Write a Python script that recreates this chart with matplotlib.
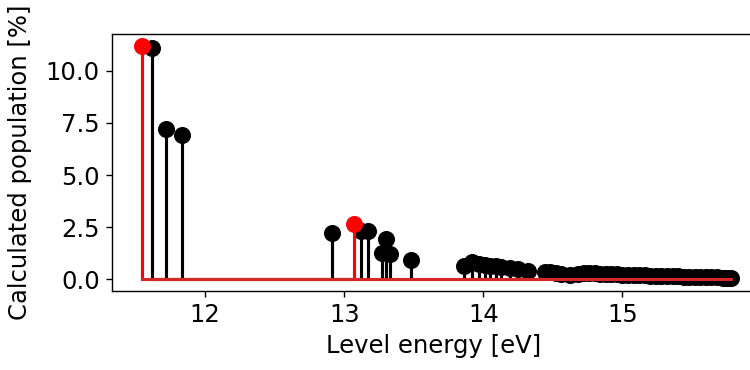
import matplotlib
matplotlib.use("Agg")
import matplotlib.pyplot as plt

# level energies [eV] and calculated populations [%]
black_energy = [11.62, 11.72, 11.83, 12.91, 13.12, 13.17, 13.27, 13.30, 13.33, 13.48,
                13.86, 13.92, 13.97, 14.01, 14.05, 14.09, 14.13, 14.19, 14.25, 14.32,
                14.44, 14.48, 14.52, 14.56, 14.62, 14.68, 14.72, 14.76, 14.80, 14.84,
                14.88, 14.92, 14.96, 15.00, 15.04, 15.08, 15.12, 15.16, 15.20, 15.24,
                15.28, 15.32, 15.36, 15.40, 15.44, 15.48, 15.52, 15.56, 15.60, 15.64,
                15.68, 15.72, 15.75, 15.78]
black_pop = [11.09, 7.21, 6.92, 2.24, 2.30, 2.33, 1.24, 1.93, 1.22, 0.95,
             0.62, 0.82, 0.72, 0.70, 0.66, 0.62, 0.58, 0.52, 0.48, 0.42,
             0.33, 0.36, 0.30, 0.24, 0.20, 0.26, 0.30, 0.29, 0.28, 0.27,
             0.26, 0.25, 0.24, 0.23, 0.22, 0.21, 0.20, 0.19, 0.18, 0.17,
             0.16, 0.15, 0.14, 0.14, 0.13, 0.12, 0.11, 0.11, 0.10, 0.09,
             0.09, 0.08, 0.07, 0.06]

red_energy = [11.545, 13.07]
red_pop = [11.2, 2.64]

x_ticks = [12, 13, 14, 15]
y_ticks = [0, 2.5, 5.0, 7.5, 10.0]

plt.rcParams["font.size"] = 14

fig = plt.figure(figsize=(6, 2.96), dpi=125)
# the right spine sits just past the canvas edge, as in the reference crop
ax = fig.add_axes([0.1493, 0.2135, 0.8587, 0.6946])

for E, P, col in [(black_energy, black_pop, "k"), (red_energy, red_pop, "r")]:
    markers, stems, base = ax.stem(E, P, linefmt=col + "-", markerfmt=col + "o")
    markers.set_markersize(8.8)
    stems.set_linewidth(1.8)
    base.set_linewidth(1.8)

ax.set_xlim(11.33, 15.96)
ax.set_xticks(x_ticks)
ax.set_yticks(y_ticks)
ax.set_xlabel("Level energy [eV]")
ax.set_ylabel("Calculated population [%]", labelpad=8)

fig.savefig("out.png", dpi=125)
